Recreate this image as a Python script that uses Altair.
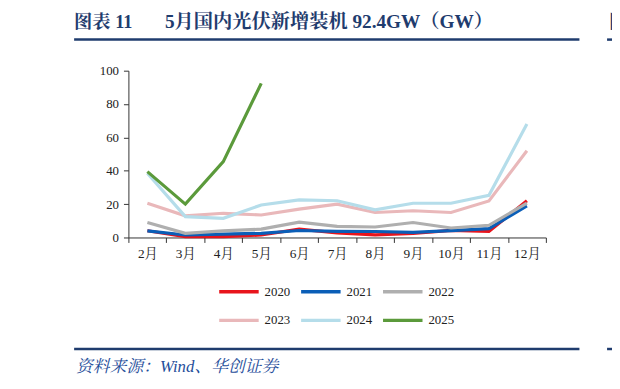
import altair as alt
import pandas as pd

months = ["2月", "3月", "4月", "5月", "6月", "7月", "8月", "9月", "10月", "11月", "12月"]
years = ["2020", "2021", "2022", "2023", "2024", "2025"]
v2020 = [4.0, 0.5, 0.5, 1.5, 5.0, 2.8, 1.6, 2.4, 4.3, 3.7, 22.0]
v2021 = [4.0, 1.5, 2.0, 2.5, 4.2, 3.7, 3.6, 3.1, 4.1, 5.3, 19.0]
v2022 = [9.0, 2.5, 4.0, 5.0, 9.2, 6.7, 6.3, 9.0, 5.7, 7.3, 20.6]
v2023 = [20.5, 13.0, 14.5, 13.5, 17.0, 20.0, 15.0, 16.0, 15.0, 21.9, 52.0]
v2024 = [38.5, 12.5, 11.5, 19.5, 22.5, 22.0, 16.6, 20.5, 20.5, 25.3, 68.0]
v2025 = [39.5, 20.0, 45.5, 92.4]
colors = ["#E8141C", "#0A5EB7", "#AFAFAF", "#E9B8BA", "#B5DDEA", "#5B9A3B"]

title_a = "图表 11"
title_b = "5月国内光伏新增装机 92.4GW（GW）"
source_text = "资料来源：Wind、华创证券"

series = [v2020, v2021, v2022, v2023, v2024, v2025]
rows = []
for yr, vals in zip(years, series):
    for i, v in enumerate(vals):
        rows.append({"month": months[i], "year": yr, "value": v, "order": i})
df = pd.DataFrame(rows)

SERIF = "Liberation Serif, Times New Roman, Noto Serif CJK SC, Noto Sans CJK SC"
NAVY = "#1F3C6E"

lines = alt.Chart(df).mark_line(strokeWidth=3.2).encode(
    x=alt.X("month:N", sort=months, scale=alt.Scale(paddingInner=0, paddingOuter=0),
            axis=alt.Axis(title=None, labelAngle=0, tickBand="extent", labelFont=SERIF,
                          labelFontSize=13.5, labelColor="#222", domainColor="#333",
                          tickColor="#333", tickSize=5, labelPadding=4)),
    y=alt.Y("value:Q", scale=alt.Scale(domain=[0, 100], nice=False),
            axis=alt.Axis(title=None, values=[0, 20, 40, 60, 80, 100], grid=False,
                          labelFont=SERIF, labelFontSize=13, labelColor="#222",
                          domainColor="#333", tickColor="#333", tickSize=5, labelPadding=5)),
    color=alt.Color("year:N", scale=alt.Scale(domain=years, range=colors),
                    legend=alt.Legend(title=None, orient="none", legendX=90, legendY=202,
                                      direction="horizontal", columns=3,
                                      symbolType="stroke", symbolSize=1600,
                                      symbolStrokeWidth=3.5, labelFont=SERIF, labelFontSize=13,
                                      labelColor="#222", columnPadding=4, rowPadding=-11,
                                      labelOffset=4)),
    order="order:Q",
)

def text_layer(t, x, y, **kw):
    return alt.Chart(pd.DataFrame({"t": [t]})).mark_text(
        align="left", baseline="middle", **kw
    ).encode(text="t:N", x=alt.value(x), y=alt.value(y))

title1 = text_layer(title_a, -55, -49, font=SERIF, fontSize=18.5, fontWeight="bold", color=NAVY)
title2 = text_layer(title_b, 37, -49, font=SERIF, fontSize=19.5, fontWeight="bold", color=NAVY)
frag = text_layer("图", 487, -49, font=SERIF, fontSize=18.5, fontWeight="bold", color=NAVY)
source = text_layer(source_text, -53, 300, font=SERIF, fontSize=17, fontStyle="italic", color="#1F4E9A")

def rule(x1, x2, y):
    return alt.Chart(pd.DataFrame({"a": [0]})).mark_rule(color=NAVY, strokeWidth=2.5).encode(
        x=alt.value(x1), x2=alt.value(x2), y=alt.value(y))

chart = alt.layer(
    lines, title1, title2, frag, source,
    rule(-55, 457, -31.5), rule(-55, 457, 282), rule(485, 500, -31.5), rule(485, 500, 282),
).properties(
    width=423, height=169,
    autosize=alt.AutoSizeParams(type="none"),
    padding={"left": 122, "top": 61, "right": 67, "bottom": 151},
).configure(background="white", view=alt.ViewConfig(stroke=None))

chart.save("out.html", embed_options={"renderer": "svg", "actions": False})
